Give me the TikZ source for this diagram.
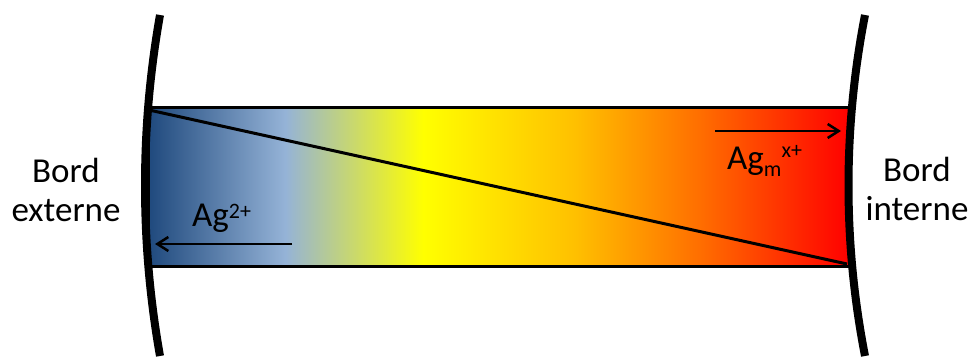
\documentclass[tikz,border=0pt]{standalone}
\usepackage{fontspec}
\setmainfont{Carlito}
\usetikzlibrary{arrows.meta}
\definecolor{blueD}{RGB}{31,73,125}
\definecolor{blueL}{RGB}{149,179,215}
\definecolor{yell}{RGB}{255,255,0}
\definecolor{ambr}{RGB}{255,192,0}
\definecolor{oran}{RGB}{255,110,0}
\definecolor{redd}{RGB}{255,0,0}
\pgfdeclarehorizontalshading{bandshade}{100bp}{%
  color(0bp)=(blueD); color(25bp)=(blueD); color(34.8bp)=(blueL);
  color(44.6bp)=(yell); color(55.4bp)=(ambr); color(64.3bp)=(oran);
  color(75bp)=(redd); color(100bp)=(redd)}
\begin{document}
\begin{tikzpicture}[x=1pt,y=-1pt,
  lbl/.style={font=\fontsize{35}{39}\selectfont, inner sep=0pt, align=center},
  ion/.style={font=\fontsize{35}{40}\selectfont, inner sep=0pt},
  wall/.style={line width=8pt},
  flux/.style={line width=2.5pt, -{Straight Barb[length=11pt,width=14pt,line width=2.5pt]}}]
\useasboundingbox (0,0) rectangle (974,358);
% band
\coordinate (tl) at (148,108);
\coordinate (br) at (850,266);
\shade[shading=bandshade] (tl) rectangle (br);
\draw[line width=3pt] (tl) rectangle (br);
\coordinate (dA) at (149,110);
\coordinate (dB) at (847,264);
\draw[line width=3pt] (dA) -- (dB);
% walls
\coordinate (l1) at (160,15); \coordinate (l2) at (160,356);
\coordinate (lc1) at (140,128); \coordinate (lc2) at (140,243);
\coordinate (r1) at (865,15); \coordinate (r2) at (865,356);
\coordinate (rc1) at (843,128); \coordinate (rc2) at (843,243);
\draw[wall] (l1) .. controls (lc1) and (lc2) .. (l2);
\draw[wall] (r1) .. controls (rc1) and (rc2) .. (r2);
% labels
\node[lbl, anchor=base] (ext) at (66,222) {Bord\\externe};
\node[lbl, anchor=base] (int) at (917,220) {Bord\\interne};
\node[ion, anchor=base west] (ag2) at (192,226) {Ag\raisebox{8pt}{\fontsize{22}{24}\selectfont 2+}};
\node[ion, anchor=base west] (agm) at (727,170) {Ag\raisebox{-7pt}{\fontsize{22}{24}\selectfont m}\raisebox{12pt}{\fontsize{22}{24}\selectfont x+}};
\coordinate (a1s) at (292,244); \coordinate (a1e) at (155,244);
\coordinate (a2s) at (715,131); \coordinate (a2e) at (841,131);
\draw[flux] (a1s) -- (a1e);
\draw[flux] (a2s) -- (a2e);
\end{tikzpicture}
\end{document}
